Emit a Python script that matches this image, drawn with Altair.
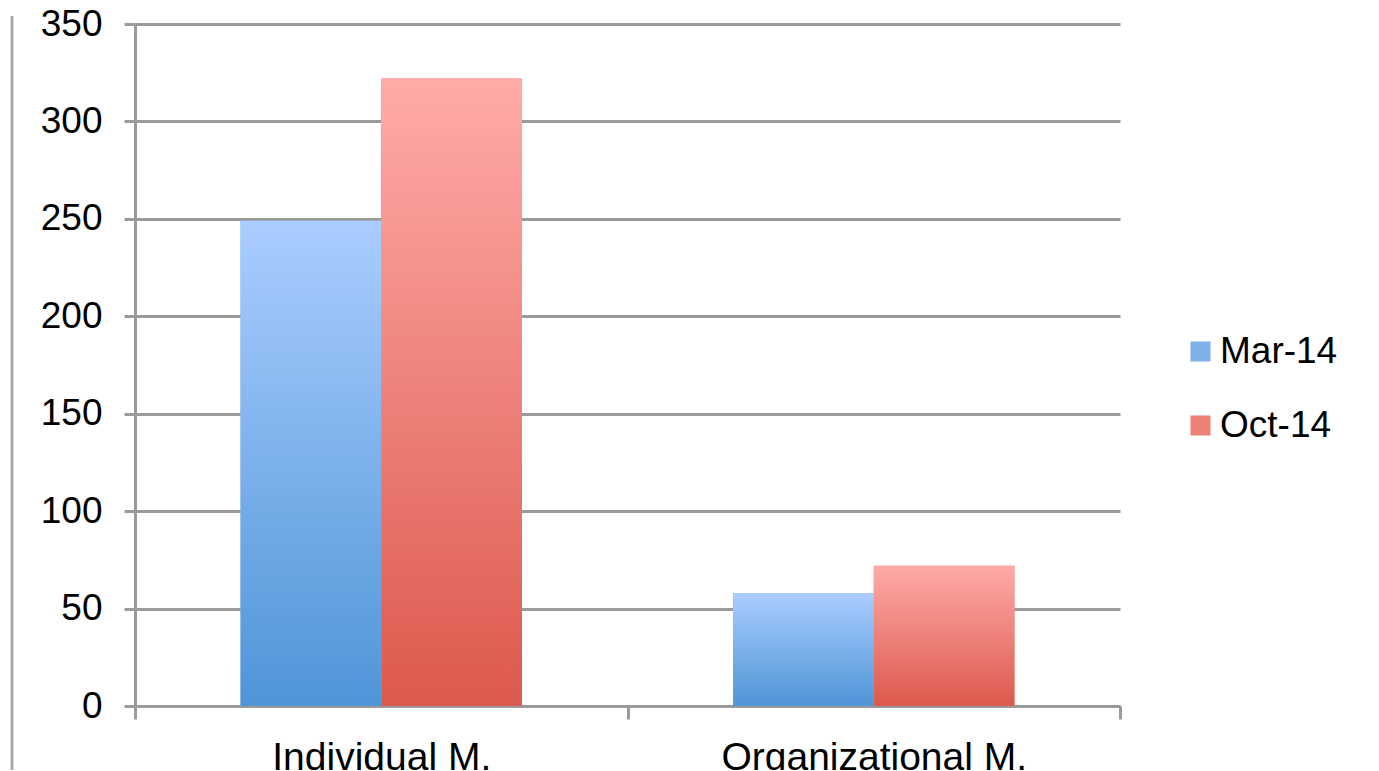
import altair as alt
import pandas as pd

categories = ["Individual M.", "Organizational M."]
series = ["Mar-14", "Oct-14"]
mar_values = [249, 58]
oct_values = [322, 72]
y_ticks = [0, 50, 100, 150, 200, 250, 300, 350]

rows = []
for c, m, o in zip(categories, mar_values, oct_values):
    rows.append({"category": c, "series": series[0], "value": m})
    rows.append({"category": c, "series": series[1], "value": o})
df = pd.DataFrame(rows)

FONT = "Liberation Sans"
GRAY = "#9a9a9a"

grad_mar = {"gradient": "linear", "x1": 0, "x2": 0, "y1": 0, "y2": 1,
            "stops": [{"offset": 0, "color": "#aacdff"}, {"offset": 1, "color": "#4f95d7"}]}
grad_oct = {"gradient": "linear", "x1": 0, "x2": 0, "y1": 0, "y2": 1,
            "stops": [{"offset": 0, "color": "#ffaba8"}, {"offset": 1, "color": "#dc594d"}]}

x_enc = alt.X("category:N", sort=categories,
              scale=alt.Scale(paddingInner=0, paddingOuter=0),
              axis=alt.Axis(title=None, labelAngle=0, tickBand="extent", tickSize=13,
                            tickColor=GRAY, tickWidth=3, domainColor=GRAY, domainWidth=3,
                            labelFont=FONT, labelFontSize=39, labelColor="black",
                            labelPadding=19, labelLimit=0, grid=False))
xo_enc = alt.XOffset("series:N", sort=series,
                     scale=alt.Scale(domain=series, paddingInner=0, paddingOuter=0.75))
y_enc = alt.Y("value:Q", scale=alt.Scale(domain=[0, 350], nice=False),
              axis=alt.Axis(title=None, values=y_ticks, grid=True, gridColor=GRAY, gridWidth=3,
                            domainColor=GRAY, domainWidth=3, tickColor=GRAY, tickWidth=3,
                            tickSize=11, labelFont=FONT, labelFontSize=37, labelColor="black",
                            labelPadding=22))

base = alt.Chart(df)

legend_bars = base.mark_bar().encode(
    x=x_enc, xOffset=xo_enc, y=y_enc,
    color=alt.Color("series:N", sort=series,
                    scale=alt.Scale(domain=series, range=["#7cb1ec", "#ee7f75"]),
                    legend=alt.Legend(title=None, orient="none", legendX=1047, legendY=309,
                                      symbolType="square", symbolSize=400, symbolStrokeWidth=0,
                                      symbolOpacity=1,
                                      labelFont=FONT, labelFontSize=37, labelColor="black",
                                      labelOffset=1, rowPadding=36, padding=0))
)

grad_bars = base.mark_bar().encode(
    x=x_enc, xOffset=xo_enc, y=y_enc,
    fill=alt.condition(alt.datum.series == "Mar-14", alt.value(grad_mar), alt.value(grad_oct)),
)

border = alt.Chart(alt.Data(values=[{"a": 1}])).mark_rule(color="#aaaaaa", strokeWidth=3).encode(
    x=alt.value(-123), y=alt.value(-8), y2=alt.value(770)
)

chart = alt.layer(border, legend_bars, grad_bars).properties(
    width=985, height=682,
    autosize=alt.AutoSizeParams(type="none"),
    padding={"left": 127, "top": 16, "right": 240, "bottom": 64},
).configure_view(stroke=None)

chart.save("out.html", embed_options={"renderer": "svg", "actions": False})
